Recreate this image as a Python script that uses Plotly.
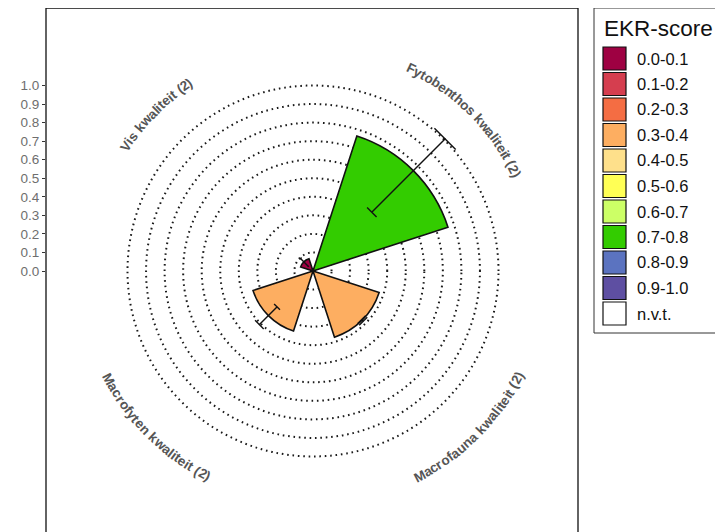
import math
import plotly.graph_objects as go

W, H = 723, 532

# Data
categories = ["Fytobenthos kwaliteit (2)", "Macrofauna kwaliteit (2)",
              "Macrofyten kwaliteit (2)", "Vis kwaliteit (2)"]
ekr = [0.765, 0.375, 0.34, 0.07]
ekr_lo = [0.45, 0.372, 0.275, 0.035]
ekr_hi = [1.01, 0.384, 0.41, 0.095]

legend_labels = ["0.0-0.1", "0.1-0.2", "0.2-0.3", "0.3-0.4", "0.4-0.5", "0.5-0.6",
                 "0.6-0.7", "0.7-0.8", "0.8-0.9", "0.9-1.0", "n.v.t."]
legend_colors = ["#9E0142", "#D53E4F", "#F46D43", "#FDAE61", "#FEE08B", "#FFFF55",
                 "#CCFF66", "#33CC00", "#5B73C0", "#5E4FA2", "#FFFFFF"]
radial_ticks = [0.0, 0.1, 0.2, 0.3, 0.4, 0.5, 0.6, 0.7, 0.8, 0.9, 1.0]

# geometry (page pixels); the page body adds an 8px margin
OFF = 8
CX, CY = 313, 271          # polar centre
UNIT = 185.5               # px per 1.0 EKR
PANEL = (46, 8, 578, 545)
BAR_WIDTH = 54             # degrees
CAP = 9.2                  # errorbar cap width, degrees


def px(x):
    return (x - OFF) / W


def py(y):
    return 1 - (y - OFF) / H


n = len(categories)
theta = [i * 360 / n + 180 / n for i in range(n)]
bar_colors = [legend_colors[min(int(v * 10), 9)] for v in ekr]

fig = go.Figure()

fig.add_trace(go.Barpolar(
    r=ekr, theta=theta, width=[BAR_WIDTH] * n,
    marker=dict(color=bar_colors, line=dict(color="#111", width=1.6)),
    showlegend=False, hoverinfo="skip",
))

# error bars: radial stem + arc caps
er, et = [], []
for t, lo, hi in zip(theta, ekr_lo, ekr_hi):
    er += [lo, hi, None, lo, lo, None, hi, hi, None]
    et += [t, t, None, t - CAP / 2, t + CAP / 2, None, t - CAP / 2, t + CAP / 2, None]
fig.add_trace(go.Scatterpolar(
    r=er, theta=et, mode="lines", line=dict(color="#111", width=1.4),
    showlegend=False, hoverinfo="skip",
))

# invisible cartesian trace to carry the left radial scale
fig.add_trace(go.Scatter(x=[None], y=[None], showlegend=False, hoverinfo="skip"))

cy_fig = CY - OFF
R_px = min(cy_fig, H - cy_fig)
fig.update_layout(
    width=W, height=H, margin=dict(l=0, r=0, t=0, b=0),
    paper_bgcolor="white", plot_bgcolor="rgba(0,0,0,0)",
    polar=dict(
        domain=dict(x=[px(CX - R_px), px(CX + R_px)],
                    y=[py(CY + R_px), py(CY - R_px)]),
        bgcolor="white",
        radialaxis=dict(range=[0, R_px / UNIT], tickvals=radial_ticks[1:],
                        showticklabels=False, ticks="", showline=False,
                        showgrid=True, gridcolor="#1a1a1a", gridwidth=1.6,
                        griddash="1.6px,3.8px"),
        angularaxis=dict(rotation=90, direction="clockwise", showgrid=False,
                         showline=False, showticklabels=False, ticks=""),
    ),
    xaxis=dict(domain=[px(PANEL[0]), px(PANEL[2])], range=[0, 1], visible=False),
    yaxis=dict(domain=[0, 1], range=[-(H - cy_fig) / UNIT, cy_fig / UNIT],
               tickvals=radial_ticks, ticktext=[f"{v:.1f}" for v in radial_ticks],
               ticks="outside", ticklen=3, tickcolor="#333", tickwidth=1,
               tickfont=dict(family="Liberation Sans, Arial", size=13.5, color="#6E6E6E"),
               showgrid=False, zeroline=False, showline=False, automargin=False),
    showlegend=False,
)

shapes = [
    dict(type="rect", xref="paper", yref="paper", x0=px(PANEL[0]), x1=px(PANEL[2]),
         y0=py(PANEL[3]), y1=py(PANEL[1]), line=dict(color="#111", width=1.3)),
    dict(type="rect", xref="paper", yref="paper", x0=px(594), x1=px(740),
         y0=py(333), y1=py(8), line=dict(color="#333", width=1)),
]
annotations = [dict(text="EKR-score", x=px(602), y=py(28), xref="paper", yref="paper",
                    xanchor="left", yanchor="middle", showarrow=False,
                    font=dict(family="Liberation Sans, Arial", size=22.5, color="#111"))]
for i, (lab, col) in enumerate(zip(legend_labels, legend_colors)):
    top = 47 + 25.5 * i
    shapes.append(dict(type="rect", xref="paper", yref="paper", x0=px(603), x1=px(626),
                       y0=py(top + 23), y1=py(top), fillcolor=col,
                       line=dict(color="#111", width=1.2)))
    annotations.append(dict(text=lab, x=px(635), y=py(top + 11.5), xref="paper", yref="paper",
                            xanchor="left", yanchor="middle", showarrow=False,
                            font=dict(family="Liberation Sans, Arial", size=16.5, color="#111")))

# curved category labels, one character at a time
BOLD = {" ": 278, "(": 333, ")": 333, "2": 556, "F": 611, "M": 833, "V": 667,
        "a": 556, "b": 611, "c": 556, "e": 556, "f": 333, "h": 611, "i": 278,
        "k": 556, "l": 278, "n": 611, "o": 611, "r": 389, "s": 556, "t": 333,
        "u": 611, "w": 778, "y": 556}
FS = 13.5
for lab, tc in zip(categories, theta):
    bottom = 90 < tc < 270
    R = 231 if bottom else 225
    widths = [BOLD.get(ch, 556) * FS / 1000 for ch in lab]
    total = sum(widths)
    s = 0
    for ch, w in zip(lab, widths):
        off = (s + w / 2 - total / 2) / R * 180 / math.pi
        s += w
        phi = tc - off if bottom else tc + off
        rot = phi - 180 if bottom else (phi - 360 if phi > 180 else phi)
        x = CX + R * math.sin(math.radians(phi))
        y = CY - R * math.cos(math.radians(phi))
        if ch == " ":
            continue
        annotations.append(dict(text=ch, x=px(x), y=py(y), xref="paper", yref="paper",
                                xanchor="center", yanchor="middle", showarrow=False,
                                textangle=rot,
                                font=dict(family="Liberation Sans, Arial", size=FS,
                                          color="#555555", weight="bold")))

fig.update_layout(shapes=shapes, annotations=annotations)
fig.write_html("out.html")
